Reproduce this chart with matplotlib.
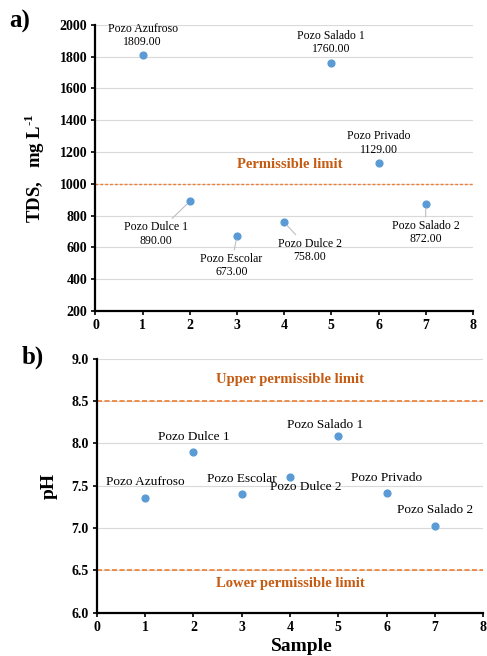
import matplotlib.pyplot as plt

plt.rcParams['font.family'] = ['Liberation Serif', 'DejaVu Serif']
plt.rcParams['mathtext.fontset'] = 'custom'
plt.rcParams['mathtext.rm'] = 'Liberation Serif'
plt.rcParams['mathtext.bf'] = 'Liberation Serif:bold'

# Data
samples = [1, 2, 3, 4, 5, 6, 7]
wells = ['Pozo Azufroso', 'Pozo Dulce 1', 'Pozo Escolar', 'Pozo Dulce 2',
         'Pozo Salado 1', 'Pozo Privado', 'Pozo Salado 2']
tds = [1809, 890, 673, 758, 1760, 1129, 872]
ph = [7.35, 7.90, 7.40, 7.60, 8.09, 7.41, 7.03]
tds_limit = 1000
ph_upper = 8.5
ph_lower = 6.5

# Label placement (data coords) for each point
tds_label_pos = [(1.0, 1935), (1.29, 685), (2.88, 487), (4.55, 582),
                 (4.99, 1891), (6.0, 1258), (7.0, 695)]
tds_leader = [False, True, True, True, False, False, True]
ph_label_pos = [(1.0, 7.54), (2.0, 8.08), (3.0, 7.58), (4.33, 7.49),
                (4.73, 8.22), (6.01, 7.59), (7.0, 7.21)]

dot_color = '#5B9BD5'
line_color = '#ED7D31'
text_color = '#C55A11'
grid_color = '#D9D9D9'

fig = plt.figure(figsize=(4.87, 6.56), dpi=100)
ax1 = fig.add_axes([0.196, 0.526, 0.775, 0.436])
ax2 = fig.add_axes([0.199, 0.066, 0.793, 0.387])


def style_axis(ax):
    for s in ['top', 'right']:
        ax.spines[s].set_visible(False)
    for s in ['left', 'bottom']:
        ax.spines[s].set_linewidth(1.6)
    ax.tick_params(axis='both', direction='out', length=3, width=1.2,
                   labelsize=10, pad=3)
    for lab in ax.get_xticklabels() + ax.get_yticklabels():
        lab.set_fontweight('bold')
    ax.yaxis.grid(True, color=grid_color, linewidth=0.8)
    ax.set_axisbelow(True)


# Panel a: TDS
ax1.scatter(samples, tds, s=24, color=dot_color, zorder=3)
ax1.axhline(tds_limit, color=line_color, linestyle=(0, (2, 1.5)), linewidth=1.0)
ax1.text(4.12, 1119, 'Permissible limit', color=text_color, fontsize=10.5,
         fontweight='bold', ha='center', va='center')
for i in range(len(samples)):
    lx, ly = tds_label_pos[i]
    txt = '%s\n%.2f' % (wells[i], tds[i])
    if tds_leader[i]:
        ax1.annotate(txt, xy=(samples[i], tds[i]), xytext=(lx, ly),
                     ha='center', va='center', fontsize=8.5,
                     linespacing=1.15,
                     arrowprops=dict(arrowstyle='-', color='#BFBFBF', lw=0.8,
                                     shrinkA=0, shrinkB=3))
    else:
        ax1.text(lx, ly, txt, ha='center', va='center', fontsize=8.5,
                 linespacing=1.15)
ax1.set_xlim(0, 8)
ax1.set_ylim(200, 2000)
ax1.set_xticks(range(0, 9))
ax1.set_yticks(range(200, 2001, 200))
ax1.set_ylabel('TDS,   mg L$^{\\mathbf{\u2010}\\mathbf{1}}$', fontsize=13.5,
               fontweight='bold', labelpad=9)
style_axis(ax1)
fig.text(0.02, 0.968, 'a)', fontsize=18, fontweight='bold', va='center')

# Panel b: pH
ax2.scatter(samples, ph, s=24, color=dot_color, zorder=3)
ax2.axhline(ph_upper, color=line_color, linestyle=(0, (3, 1.5)), linewidth=1.2)
ax2.axhline(ph_lower, color=line_color, linestyle=(0, (3, 1.5)), linewidth=1.2)
ax2.text(4.0, 8.75, 'Upper permissible limit', color=text_color, fontsize=10.5,
         fontweight='bold', ha='center', va='center')
ax2.text(4.0, 6.35, 'Lower permissible limit', color=text_color, fontsize=10.5,
         fontweight='bold', ha='center', va='center')
for i in range(len(samples)):
    lx, ly = ph_label_pos[i]
    ax2.text(lx, ly, wells[i], ha='center', va='center', fontsize=9.5)
ax2.set_xlim(0, 8)
ax2.set_ylim(6.0, 9.0)
ax2.set_xticks(range(0, 9))
ax2.set_yticks([6.0, 6.5, 7.0, 7.5, 8.0, 8.5, 9.0])
ax2.set_yticklabels(['%.1f' % v for v in [6.0, 6.5, 7.0, 7.5, 8.0, 8.5, 9.0]])
ax2.set_ylabel('pH', fontsize=14, fontweight='bold', labelpad=10)
ax2.set_xlabel('Sample', fontsize=14, fontweight='bold')
ax2.xaxis.set_label_coords(0.53, -0.098)
style_axis(ax2)
fig.text(0.045, 0.455, 'b)', fontsize=18, fontweight='bold', va='center')

fig.savefig('out.png', dpi=100)
